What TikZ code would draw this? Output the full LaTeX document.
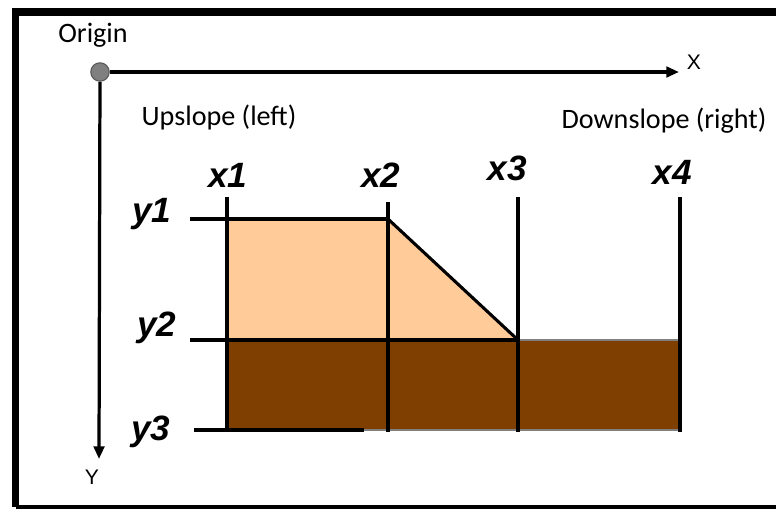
\documentclass[tikz,border=0pt]{standalone}
\usepackage{fontspec}
\setmainfont{Carlito}
\newfontfamily\arialfont{Liberation Sans}
\usetikzlibrary{arrows.meta}
\definecolor{sandfill}{HTML}{FFCC99}
\definecolor{soilfill}{HTML}{7F3F00}
\definecolor{dotgray}{HTML}{808080}
\begin{document}
\begin{tikzpicture}[x=0.025cm,y=-0.025cm,every node/.style={inner sep=0pt},
  note/.style={font=\fontsize{20}{22}\selectfont},
  gridlabel/.style={font=\arialfont\bfseries\itshape\fontsize{25}{28}\selectfont},
  axislabel/.style={font=\arialfont\fontsize{15}{17}\selectfont},
  gridline/.style={line width=3.2pt},
  axis/.style={line width=2.8pt,-{Triangle[length=9pt,width=7.5pt]}}]
\useasboundingbox (0,0) rectangle (776,509);
% frame
\draw[line width=5pt] (15.5,507) -- (15.5,12) -- (790,12);
\draw[line width=2.2pt] (15.5,507) -- (790,507);
% layers
\fill[sandfill] (227,219) -- (388,219) -- (518,340) -- (227,340) -- cycle;
\fill[soilfill] (227,340) rectangle (680,430);
\draw[dotgray,line width=1.6pt] (518,340) -- (680,340);
\draw[dotgray,line width=2pt] (364,430) -- (680,430);
% vertical grid lines
\foreach \name/\xx/\top/\lx/\ly in {x1/227/197/228/175, x2/388/202/381/175, x3/518/197/507/168, x4/680/197/672/172} {
  \coordinate (\name top) at (\xx,\top);
  \coordinate (\name bot) at (\xx,432);
  \draw[gridline] (\name top) -- (\name bot);
  \node[gridlabel] (\name lab) at (\lx,\ly) {\name};
}
% horizontal grid lines
\foreach \name/\yy/\left/\right/\lx/\ly in {y1/219/190/388/152/214, y2/340/190/518/157/328, y3/430/194/364/151/432} {
  \coordinate (\name left) at (\left,\yy);
  \coordinate (\name right) at (\right,\yy);
  \draw[gridline] (\name left) -- (\name right);
  \node[gridlabel] (\name lab) at (\lx,\ly) {\name};
}
\draw[line width=2.2pt] (x2top |- y1left) -- (y2right);
% axes
\node[circle,draw=black!65,line width=0.8pt,fill=dotgray,minimum size=0.46cm] (origin) at (100,72) {};
\coordinate (xend) at (679,72);
\coordinate (yend) at (99,459);
\draw[axis] (origin) -- (xend);
\draw[axis,line width=2.3pt] (origin) -- (yend);
\node[note] (originlab) at (93,35) {Origin};
\node[axislabel] (xlab) at (694,62) {X};
\node[axislabel] (ylab) at (92,477) {Y};
\node[note] (uplab) at (219,117) {Upslope (left)};
\node[note] (downlab) at (664,121) {Downslope (right)};
\end{tikzpicture}
\end{document}
